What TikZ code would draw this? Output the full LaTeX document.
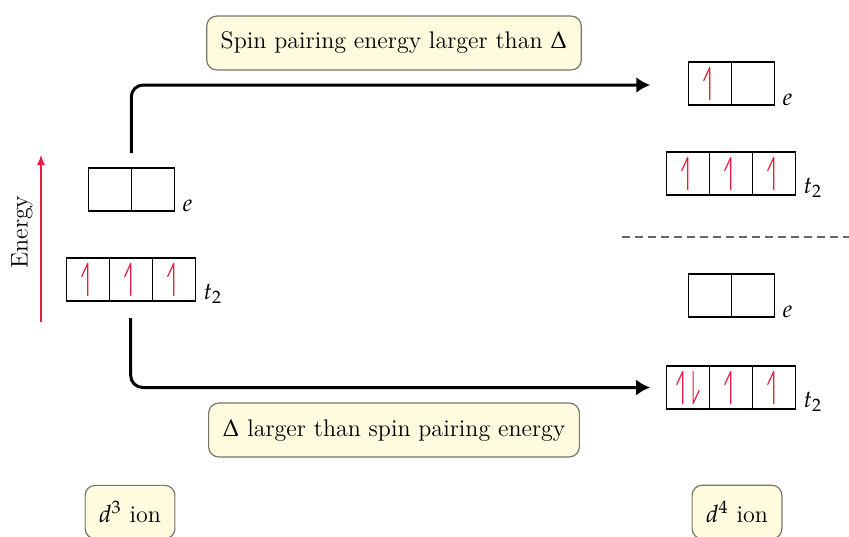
\documentclass[tikz,border=0pt]{standalone}
\usepackage{mathpazo}
\usetikzlibrary{arrows.meta,positioning}

\definecolor{spinred}{RGB}{232,28,64}
\definecolor{notefill}{RGB}{255,251,222}
\definecolor{noteline}{RGB}{120,118,105}

\tikzset{
  orb/.style={draw, rectangle, line width=0.6pt, minimum width=21.5pt,
    minimum height=21.5pt, inner sep=0pt, outer sep=0pt},
  note/.style={draw=noteline, fill=notefill, rounded corners=5pt, line width=0.6pt,
    inner xsep=7pt, inner ysep=8pt},
  lbl/.style={anchor=base west, inner sep=0pt},
  path/.style={line width=1.5pt, rounded corners=6pt, -{Latex[length=7pt,width=8pt]}},
  spin/.style={spinred, line width=0.6pt, line cap=round, line join=round}
}

% half arrows for the electrons
\newcommand{\spinup}[2][0pt]{%
  \draw[spin] ([xshift=#1,yshift=-8pt]#2.center) -- ([xshift=#1,yshift=8pt]#2.center)
    -- ([xshift=#1-3pt,yshift=1.5pt]#2.center);}
\newcommand{\spindown}[2][0pt]{%
  \draw[spin] ([xshift=#1,yshift=8pt]#2.center) -- ([xshift=#1,yshift=-8pt]#2.center)
    -- ([xshift=#1+3pt,yshift=-1.5pt]#2.center);}

\begin{document}
\begin{tikzpicture}[x=0.5pt, y=-0.5pt, node distance=0pt, font=\fontsize{12}{14}\selectfont]
    \useasboundingbox (0,0) rectangle (849,536);

    % d3 ion
    \node[orb] (le1) at (109.75,189.5) {};
    \node[orb, right=of le1] (le2) {};
    \node[orb] (lt1) at (87.7,279.5) {};
    \node[orb, right=of lt1] (lt2) {};
    \node[orb, right=of lt2] (lt3) {};
    \spinup{lt1} \spinup{lt2} \spinup{lt3}
    \node[lbl] (lelbl) at ([xshift=4pt]le2.south east) {$e$};
    \node[lbl] (ltlbl) at ([xshift=4pt,yshift=1pt]lt3.south east) {$t_2$};

    % high spin d4
    \node[orb] (he1) at (709.75,83.5) {};
    \node[orb, right=of he1] (he2) {};
    \node[orb] (ht1) at (687.7,173.5) {};
    \node[orb, right=of ht1] (ht2) {};
    \node[orb, right=of ht2] (ht3) {};
    \spinup{he1} \spinup{ht1} \spinup{ht2} \spinup{ht3}
    \node[lbl] (helbl) at ([xshift=4pt]he2.south east) {$e$};
    \node[lbl] (htlbl) at ([xshift=4pt,yshift=1pt]ht3.south east) {$t_2$};

    % low spin d4
    \node[orb] (we1) at (709.75,295.5) {};
    \node[orb, right=of we1] (we2) {};
    \node[orb] (wt1) at (687.7,387.5) {};
    \node[orb, right=of wt1] (wt2) {};
    \node[orb, right=of wt2] (wt3) {};
    \spinup[-2.5pt]{wt1} \spindown[2.7pt]{wt1} \spinup{wt2} \spinup{wt3}
    \node[lbl] (welbl) at ([xshift=4pt]we2.south east) {$e$};
    \node[lbl] (wtlbl) at ([xshift=4pt,yshift=1pt]wt3.south east) {$t_2$};

    \draw[gray!80!black, line width=0.75pt, dash pattern=on 4pt off 2.5pt] (622,237) -- (849,237);

    % the two routes
    \node[note] (hs) at (394,43) {Spin pairing energy larger than $\Delta$};
    \node[note] (ls) at (394,430) {$\Delta$ larger than spin pairing energy};
    \draw[path] ([yshift=7.5pt]le1.north east) |- ([xshift=-19pt,yshift=-0.75pt]he1.west);
    \draw[path] ([yshift=-8.5pt]lt2.south) |- ([xshift=-8pt,yshift=0pt]wt1.west);

    % energy axis
    \coordinate (elo) at (41,322);
    \coordinate (ehi) at (41,155);
    \draw[spinred, line width=0.6pt, -{Latex[length=5pt,width=4pt]}] (elo) -- (ehi);
    \node[rotate=90] (energy) at (22,232) {Energy};

    \node[note] (d3) at (130,512) {$d^3$ ion};
    \node[note] (d4) at (737,512) {$d^4$ ion};
\end{tikzpicture}
\end{document}
